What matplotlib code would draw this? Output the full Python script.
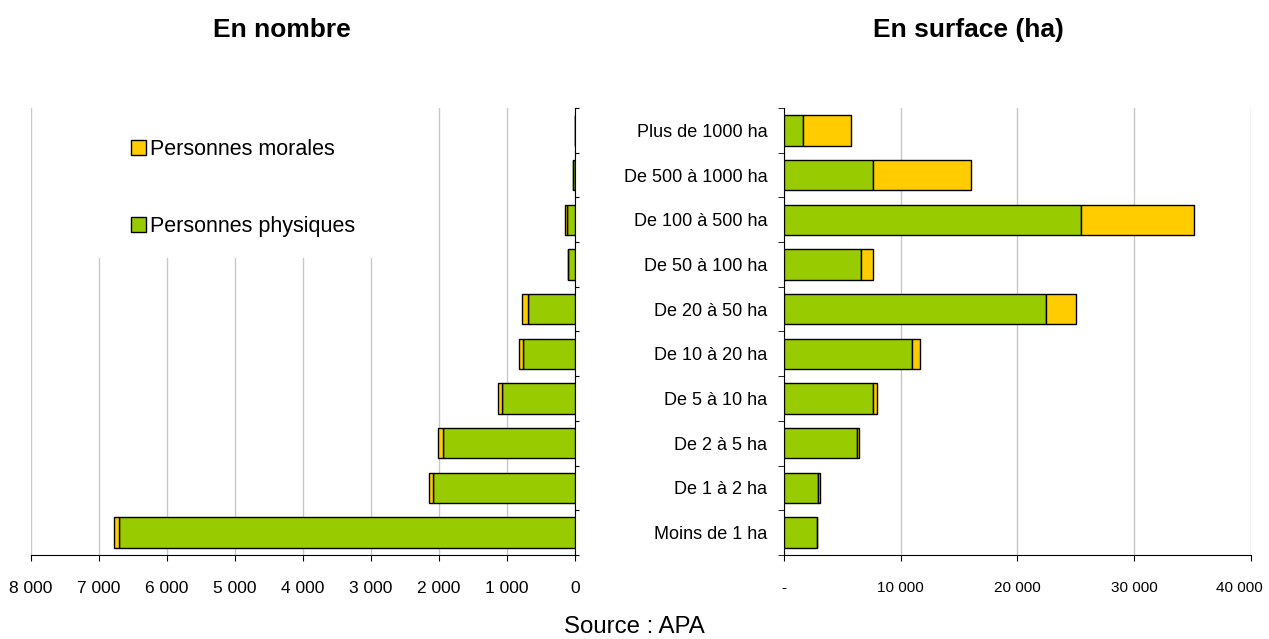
import matplotlib.pyplot as plt
import matplotlib.patches as mpatches
import numpy as np

plt.rcParams['font.family'] = ['Liberation Sans', 'DejaVu Sans']

# categories, from top to bottom
classes = ['Plus de 1000 ha', 'De 500 à 1000 ha', 'De 100 à 500 ha', 'De 50 à 100 ha',
           'De 20 à 50 ha', 'De 10 à 20 ha', 'De 5 à 10 ha', 'De 2 à 5 ha',
           'De 1 à 2 ha', 'Moins de 1 ha']

# en nombre
nb_physiques = [3, 25, 120, 105, 690, 765, 1080, 1940, 2085, 6705]
nb_morales = [2, 5, 25, 3, 90, 60, 50, 70, 55, 75]

# en surface (ha)
surf_physiques = [1600, 7600, 25400, 6570, 22450, 10970, 7630, 6230, 2950, 2830]
surf_morales = [4100, 8400, 9700, 1030, 2600, 660, 310, 180, 150, 20]

green = '#99CC00'
yellow = '#FFCC00'

fig = plt.figure(figsize=(12.69, 6.39), dpi=100)
y = np.arange(len(classes))[::-1]
h = 0.68

def fmt(v):
    return '{:,.0f}'.format(v).replace(',', ' ')

# --- panneau gauche : en nombre
ax1 = fig.add_axes([0.0244, 0.1315, 0.4287, 0.6995])
ax1.barh(y, nb_physiques, height=h, color=green, edgecolor='black', linewidth=1, zorder=3,
         label='Personnes physiques')
ax1.barh(y, nb_morales, left=nb_physiques, height=h, color=yellow, edgecolor='black', linewidth=1,
         zorder=3, label='Personnes morales')
ax1.set_xlim(8000, 0)
ax1.set_ylim(-0.5, len(classes) - 0.5)
ax1.set_xticks(np.arange(0, 8001, 1000))
ax1.set_xticklabels([fmt(v) for v in np.arange(0, 8001, 1000)], fontsize=12.5)
ax1.set_yticks(np.arange(len(classes) + 1) - 0.5)
ax1.set_yticklabels([])
ax1.yaxis.tick_right()
ax1.tick_params(axis='y', direction='out', length=3)
ax1.tick_params(axis='x', direction='out', length=4, pad=15)
ax1.grid(axis='x', color='#c8c8c8', linewidth=1, zorder=0)
for s in ['top', 'left']:
    ax1.spines[s].set_visible(False)
# fond blanc derrière la légende
ax1.add_patch(mpatches.Rectangle((0.025, 0.665), 0.66, 0.34, transform=ax1.transAxes,
                                 facecolor='white', edgecolor='none', zorder=2))
handles, labels = ax1.get_legend_handles_labels()
leg = ax1.legend(handles[::-1], labels[::-1], loc='upper left', bbox_to_anchor=(0.1475, 0.973),
                 frameon=False, fontsize=15.5, handlelength=0.7, handleheight=0.7,
                 handletextpad=0.2, labelspacing=2.6)
leg.set_zorder(4)

# --- panneau droit : en surface
ax2 = fig.add_axes([0.6178, 0.1315, 0.368, 0.6995])
ax2.barh(y, surf_physiques, height=h, color=green, edgecolor='black', linewidth=1, zorder=3)
ax2.barh(y, surf_morales, left=surf_physiques, height=h, color=yellow, edgecolor='black',
         linewidth=1, zorder=3)
ax2.set_xlim(0, 40000)
ax2.set_ylim(-0.5, len(classes) - 0.5)
xt = np.arange(0, 40001, 10000)
xlabels = ['-'] + [fmt(v) for v in xt[1:]]
ax2.set_xticks(xt)
ax2.set_xticklabels(xlabels[:-1] + [''], fontsize=11)
# dernier libellé décalé vers la gauche pour rester dans l'image
ax2.annotate(xlabels[-1], xy=(xt[-1], 0), xycoords=('data', 'axes fraction'),
             xytext=(-8, -19), textcoords='offset points', ha='center', va='top', fontsize=11)
ax2.set_yticks(y)
ax2.set_yticklabels(classes, fontsize=13)
ax2.set_yticks(np.arange(len(classes) + 1) - 0.5, minor=True)
ax2.tick_params(axis='y', which='major', length=0, pad=12)
ax2.tick_params(axis='y', which='minor', direction='out', length=4)
ax2.tick_params(axis='x', direction='out', length=4, pad=15)
ax2.grid(axis='x', color='#c8c8c8', linewidth=1, zorder=0)
for s in ['top', 'right']:
    ax2.spines[s].set_visible(False)

fig.text(0.222, 0.953, 'En nombre', fontsize=19, fontweight='bold', ha='center', va='center')
fig.text(0.763, 0.953, 'En surface (ha)', fontsize=19, fontweight='bold', ha='center', va='center')
fig.text(0.5, 0.019, 'Source : APA', fontsize=17.3, ha='center', va='center')

fig.savefig('out.png', dpi=100)
